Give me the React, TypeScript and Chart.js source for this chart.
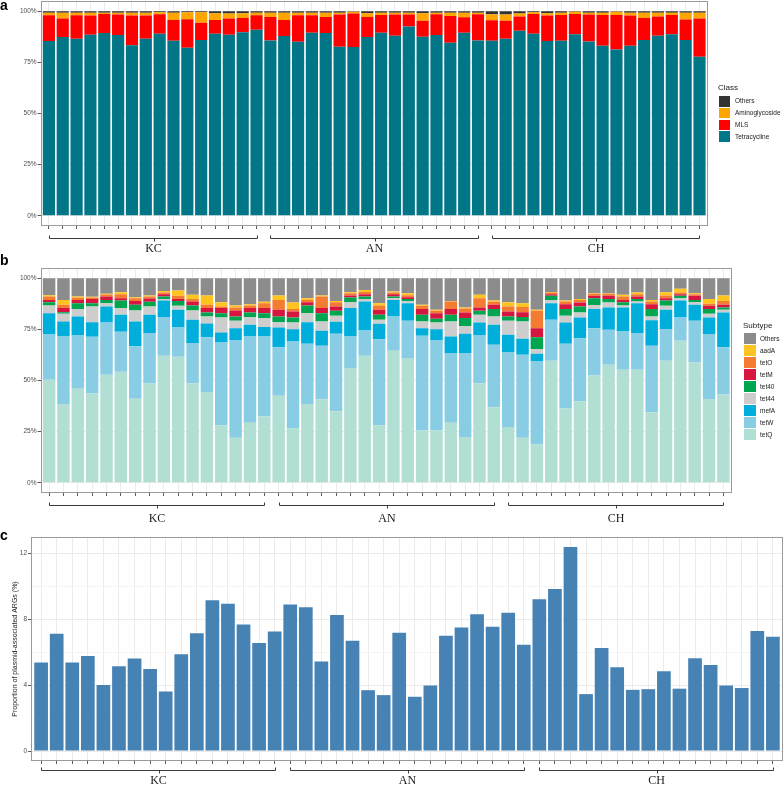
import React, { useEffect, useRef } from 'react';
import { Chart, registerables } from 'chart.js';

Chart.register(...registerables);

const FONT = '"Liberation Sans", Arial, Helvetica, sans-serif';
const SERIF = '"Liberation Serif", "Times New Roman", serif';

// ---------- categories ----------
const groupLabels = ['KC', 'AN', 'CH'];
const groupSize = 16;
const samples = groupLabels.flatMap((g) => Array.from({ length: groupSize }, (_, k) => `${g}${k + 1}`));

// ---------- panel a : ARG class (%) ----------
const classTetracycline = [85.4, 87.4, 86.6, 88.5, 89.3, 88.4, 83.4, 86.6, 89.0, 85.6, 82.1, 85.9, 89.0, 88.5, 89.7, 91.0, 85.7, 87.9, 85.1, 89.5, 89.3, 82.6, 82.5, 87.4, 89.5, 88.0, 92.5, 87.5, 88.4, 84.6, 89.5, 85.7, 85.6, 86.6, 90.5, 89.0, 85.4, 85.6, 88.7, 85.2, 83.1, 81.3, 83.1, 85.9, 88.0, 88.7, 85.9, 77.7];
const classMLS = [12.6, 9.0, 11.4, 9.4, 9.4, 10.0, 14.5, 11.3, 9.5, 10.1, 14.0, 8.5, 6.7, 7.9, 7.0, 7.0, 11.5, 7.8, 12.9, 8.5, 7.9, 15.8, 16.4, 9.8, 8.7, 10.4, 5.9, 7.9, 10.1, 13.1, 7.5, 12.8, 10.0, 8.8, 6.9, 9.7, 12.5, 12.6, 10.0, 13.2, 15.1, 16.9, 14.8, 10.8, 9.4, 9.5, 10.0, 18.7];
const classAminoglycoside = [1.3, 2.9, 1.3, 1.4, 0.6, 0.9, 1.4, 1.3, 1.0, 3.6, 3.4, 5.1, 3.3, 2.5, 2.3, 1.2, 2.0, 3.5, 1.2, 1.3, 2.0, 0.9, 0.9, 1.8, 1.0, 0.9, 0.9, 3.6, 0.8, 1.6, 2.3, 0.8, 2.9, 3.0, 1.5, 0.8, 1.1, 1.0, 1.0, 0.9, 1.1, 1.5, 1.3, 2.5, 1.9, 1.1, 3.4, 2.9];
const classOthers = [0.7, 0.7, 0.7, 0.7, 0.7, 0.7, 0.7, 0.8, 0.5, 0.7, 0.5, 0.5, 1.0, 1.1, 1.0, 0.8, 0.8, 0.8, 0.8, 0.7, 0.8, 0.7, 0.2, 1.0, 0.8, 0.7, 0.7, 1.0, 0.7, 0.7, 0.7, 0.7, 1.5, 1.6, 1.1, 0.5, 1.0, 0.8, 0.3, 0.7, 0.7, 0.3, 0.8, 0.8, 0.7, 0.7, 0.7, 0.7];

// ---------- panel b : ARG subtype (%) ----------
const subTetQ = [50.4, 38.5, 46.0, 43.6, 52.8, 54.3, 41.1, 48.5, 62.1, 61.6, 48.5, 44.4, 28.1, 22.0, 29.3, 32.5, 42.6, 26.5, 38.5, 40.7, 35.0, 56.1, 62.1, 28.1, 64.6, 61.0, 25.5, 25.5, 29.3, 22.4, 48.5, 36.9, 27.3, 22.0, 18.7, 59.7, 36.3, 39.8, 52.4, 57.7, 55.3, 55.3, 34.5, 59.7, 69.4, 58.9, 41.0, 43.1];
const subTetW = [22.1, 33.2, 26.0, 27.8, 25.6, 19.5, 25.6, 24.7, 18.9, 14.3, 19.8, 26.8, 40.5, 47.6, 42.2, 39.0, 23.6, 42.6, 29.5, 26.3, 37.8, 15.4, 12.4, 42.1, 16.7, 18.2, 46.4, 44.1, 34.1, 41.0, 23.5, 30.6, 36.6, 40.6, 40.6, 20.0, 31.7, 30.9, 23.2, 17.1, 18.7, 17.9, 32.5, 15.4, 11.4, 20.3, 31.7, 23.2];
const subMefA = [10.4, 7.2, 9.3, 7.1, 7.8, 8.3, 12.2, 8.9, 8.1, 8.7, 11.4, 6.7, 4.9, 6.0, 5.7, 4.6, 9.7, 6.0, 10.5, 7.3, 5.9, 13.9, 14.1, 7.5, 8.1, 8.6, 3.7, 5.5, 8.1, 9.4, 6.4, 9.7, 8.5, 7.8, 3.8, 8.1, 10.4, 10.1, 9.3, 10.9, 11.7, 14.6, 12.5, 9.5, 8.3, 7.8, 8.1, 17.0];
const subTet44 = [3.8, 3.7, 3.6, 7.7, 1.6, 3.3, 5.3, 4.1, 0.8, 1.9, 4.5, 3.4, 7.3, 3.6, 3.8, 4.4, 2.6, 3.3, 4.4, 4.6, 2.9, 2.9, 1.2, 2.0, 0.8, 1.0, 3.3, 3.3, 7.4, 3.9, 3.7, 4.1, 6.8, 8.5, 2.3, 1.6, 3.2, 2.5, 2.0, 2.4, 1.0, 0.8, 1.8, 1.9, 1.1, 1.3, 1.8, 1.3];
const subTet40 = [1.6, 0.8, 2.9, 1.6, 1.6, 3.7, 2.8, 2.3, 1.2, 2.4, 2.5, 2.0, 2.1, 2.1, 2.3, 2.4, 2.8, 2.4, 3.8, 4.0, 2.5, 2.3, 1.3, 2.4, 0.9, 1.0, 3.2, 1.8, 3.2, 3.8, 2.0, 3.6, 2.1, 2.1, 5.8, 2.0, 3.4, 2.9, 3.3, 1.7, 1.6, 1.3, 3.7, 2.6, 1.2, 1.1, 2.3, 1.1];
const subTetM = [1.1, 2.0, 1.6, 2.1, 1.7, 1.1, 1.9, 1.6, 1.1, 1.0, 1.9, 2.1, 2.5, 2.9, 2.1, 2.5, 3.3, 2.9, 1.6, 2.5, 2.1, 0.9, 1.1, 2.5, 1.1, 0.9, 2.8, 2.7, 2.8, 2.8, 1.6, 2.1, 2.4, 2.4, 4.4, 0.8, 2.3, 1.9, 1.2, 1.6, 1.1, 1.2, 2.3, 1.1, 0.8, 2.0, 1.6, 1.3];
const subTetO = [1.7, 1.6, 1.0, 0.7, 0.9, 2.0, 1.3, 1.0, 0.8, 1.5, 1.2, 1.6, 0.8, 1.5, 1.3, 2.4, 4.8, 1.3, 1.1, 5.7, 2.1, 1.2, 1.1, 2.1, 0.8, 1.0, 1.6, 1.2, 3.7, 1.9, 4.5, 1.5, 2.5, 2.5, 8.5, 0.8, 1.3, 1.3, 1.0, 1.0, 1.7, 1.1, 1.3, 1.3, 0.8, 0.8, 1.0, 1.9];
const subAadA = [0.6, 2.3, 0.7, 0.3, 0.4, 1.0, 0.5, 0.4, 0.8, 2.6, 2.1, 4.5, 2.1, 1.0, 0.6, 0.7, 2.1, 3.1, 0.8, 0.4, 0.6, 0.5, 1.0, 1.1, 0.5, 1.0, 0.5, 0.5, 0.3, 0.5, 1.7, 0.6, 2.1, 1.9, 0.5, 0.3, 0.5, 0.4, 0.3, 0.3, 0.8, 0.8, 0.8, 1.7, 1.8, 0.5, 2.3, 2.6];
const subOthers = [8.3, 10.7, 8.9, 9.1, 7.6, 6.8, 9.3, 8.5, 6.2, 6.0, 8.1, 8.5, 11.7, 13.3, 12.7, 11.5, 8.5, 11.9, 9.8, 8.5, 11.1, 6.8, 5.7, 12.2, 6.5, 7.3, 13.0, 15.4, 11.1, 14.3, 8.1, 10.9, 11.7, 12.2, 15.4, 6.7, 10.9, 10.2, 7.3, 7.3, 8.1, 7.0, 10.6, 6.8, 5.2, 7.3, 10.2, 8.5];

// ---------- panel c : plasmid-associated ARGs (%) ----------
const plasmidProportion = [5.38, 7.13, 5.38, 5.78, 4.01, 5.15, 5.62, 4.99, 3.62, 5.88, 7.15, 9.16, 8.94, 7.69, 6.56, 7.27, 8.90, 8.74, 5.44, 8.27, 6.70, 3.70, 3.40, 7.19, 3.30, 3.99, 7.01, 7.51, 8.31, 7.55, 8.40, 6.46, 9.22, 9.85, 12.40, 3.46, 6.26, 5.09, 3.72, 3.76, 4.85, 3.79, 5.64, 5.23, 3.99, 3.83, 7.29, 6.95];

// ---------- ticks ----------
const percentTicks = [0, 25, 50, 75, 100];
const plasmidMajorTicks = [0, 4, 8, 12];
const plasmidMinorTicks = [2, 6, 10];

// ---------- series definitions (bottom to top) ----------
const classSeries = [
  { name: 'Tetracycline', values: classTetracycline, color: '#007687' },
  { name: 'MLS', values: classMLS, color: '#FF0000' },
  { name: 'Aminoglycoside', values: classAminoglycoside, color: '#FFA500' },
  { name: 'Others', values: classOthers, color: '#333333' },
];
const subtypeSeries = [
  { name: 'tetQ', values: subTetQ, color: '#B2DFD3' },
  { name: 'tetW', values: subTetW, color: '#88CDE3' },
  { name: 'mefA', values: subMefA, color: '#00AEDC' },
  { name: 'tet44', values: subTet44, color: '#CDCDCD' },
  { name: 'tet40', values: subTet40, color: '#00A550' },
  { name: 'tetM', values: subTetM, color: '#D6163F' },
  { name: 'tetO', values: subTetO, color: '#F47B32' },
  { name: 'aadA', values: subAadA, color: '#FFC41F' },
  { name: 'Others', values: subOthers, color: '#8C8C8C' },
];

type Spec = {
  top: number;
  canvasH: number;
  padTop: number;
  xh: number;
  yw: number;
  right: number;
  xMin: number;
  xMax: number;
  yMin: number;
  yMax: number;
  yTicks: number[];
  isMajor: (v: number) => boolean;
  yLabel: (v: number) => string;
  datasets: any[];
  letter: string;
  letterY: number;
  bracketY: number;
  labelY: number;
  yTitle?: { text: string; x: number };
};

function toDatasets(series: { name: string; values: number[]; color: string }[], barPct: number) {
  return series.map((s) => ({
    label: s.name,
    data: s.values.map((v, i) => ({ x: i, y: v })),
    backgroundColor: s.color,
    borderWidth: 0,
    barPercentage: barPct,
    categoryPercentage: 1,
  }));
}

function decor(s: Spec) {
  return {
    id: 'decor',
    afterDatasetsDraw(chart: any) {
      const { ctx, chartArea: a } = chart;
      ctx.save();
      ctx.strokeStyle = '#9A9A9A';
      ctx.lineWidth = 1;
      const l = Math.round(a.left) + 0.5;
      const t = Math.round(a.top) + 0.5;
      const r = Math.round(a.right) - 0.5;
      const b = Math.round(a.bottom) - 0.5;
      ctx.strokeRect(l, t, r - l, b - t);
      ctx.restore();
    },
    afterDraw(chart: any) {
      const { ctx, chartArea: a } = chart;
      const xs = chart.scales.x;
      ctx.save();
      // panel letter
      ctx.fillStyle = '#000';
      ctx.font = `bold 14px ${FONT}`;
      ctx.textAlign = 'left';
      ctx.textBaseline = 'alphabetic';
      ctx.fillText(s.letter, 0, s.letterY);
      // group brackets
      ctx.strokeStyle = '#3A3A3A';
      ctx.lineWidth = 1;
      const y = Math.round(s.bracketY) + 0.5;
      groupLabels.forEach((g, gi) => {
        const first = gi * groupSize;
        const last = first + groupSize - 1;
        const x0 = Math.round(xs.getPixelForValue(first)) + 0.5;
        const x1 = Math.round(xs.getPixelForValue(last)) + 0.5;
        const mid = Math.round((x0 + x1) / 2) + 0.5;
        ctx.beginPath();
        ctx.moveTo(x0, y - 3);
        ctx.lineTo(x0, y);
        ctx.lineTo(x1, y);
        ctx.lineTo(x1, y - 3);
        ctx.moveTo(mid, y);
        ctx.lineTo(mid, y + 3);
        ctx.stroke();
        ctx.fillStyle = '#1A1A1A';
        ctx.font = `12px ${SERIF}`;
        ctx.textAlign = 'center';
        ctx.textBaseline = 'middle';
        ctx.fillText(g, (x0 + x1) / 2, s.labelY);
      });
      // y title
      if (s.yTitle) {
        ctx.save();
        ctx.translate(s.yTitle.x, (a.top + a.bottom) / 2);
        ctx.rotate(-Math.PI / 2);
        ctx.fillStyle = '#222';
        ctx.font = `7px ${FONT}`;
        ctx.textAlign = 'center';
        ctx.textBaseline = 'middle';
        ctx.fillText(s.yTitle.text, 0, 0);
        ctx.restore();
      }
      ctx.restore();
    },
  };
}

function buildConfig(s: Spec): any {
  return {
    type: 'bar',
    data: { labels: samples, datasets: s.datasets },
    options: {
      animation: false,
      responsive: false,
      maintainAspectRatio: false,
      events: [],
      layout: { padding: { left: 0, right: s.right, top: s.padTop, bottom: 0 } },
      plugins: { legend: { display: false }, tooltip: { enabled: false }, title: { display: false } },
      scales: {
        x: {
          type: 'linear',
          min: s.xMin,
          max: s.xMax,
          offset: false,
          stacked: true,
          grid: {
            offset: false,
            color: '#EBEBEB',
            lineWidth: 1,
            tickColor: '#5A5A5A',
            tickLength: 3,
            drawTicks: true,
            drawOnChartArea: true,
          },
          border: { display: false },
          ticks: { display: false },
          afterBuildTicks: (sc: any) => {
            sc.ticks = samples.map((_, i) => ({ value: i }));
          },
          afterFit: (sc: any) => {
            sc.height = s.xh;
            sc.paddingLeft = 0;
            sc.paddingRight = 0;
          },
        },
        y: {
          type: 'linear',
          min: s.yMin,
          max: s.yMax,
          stacked: true,
          grid: {
            color: (c: any) => (c.tick && s.isMajor(c.tick.value) ? '#EBEBEB' : '#F5F5F5'),
            tickColor: (c: any) => (c.tick && s.isMajor(c.tick.value) ? '#5A5A5A' : 'rgba(0,0,0,0)'),
            tickLength: 3,
            lineWidth: 1,
          },
          border: { display: false },
          ticks: {
            font: { size: 6.5, family: FONT },
            color: '#4D4D4D',
            padding: 1,
            autoSkip: false,
            callback: (v: any) => s.yLabel(Number(v)),
          },
          afterBuildTicks: (sc: any) => {
            sc.ticks = s.yTicks.map((v) => ({ value: v }));
          },
          afterFit: (sc: any) => {
            sc.width = s.yw;
            sc.paddingTop = 0;
            sc.paddingBottom = 0;
          },
        },
      },
    },
    plugins: [decor(s)],
  };
}

const specA: Spec = {
  top: 0,
  canvasH: 256,
  padTop: 1,
  xh: 30,
  yw: 40.6,
  right: 75.2,
  xMin: -0.6,
  xMax: 47.6,
  yMin: -5,
  yMax: 105,
  yTicks: percentTicks,
  isMajor: () => true,
  yLabel: (v) => `${v}%`,
  datasets: toDatasets(classSeries, 0.88),
  letter: 'a',
  letterY: 10,
  bracketY: 238,
  labelY: 248.5,
};

const specB: Spec = {
  top: 250,
  canvasH: 280,
  padTop: 18,
  xh: 37,
  yw: 40.5,
  right: 51,
  xMin: -0.6,
  xMax: 47.6,
  yMin: -5,
  yMax: 105,
  yTicks: percentTicks,
  isMajor: () => true,
  yLabel: (v) => `${v}%`,
  datasets: toDatasets(subtypeSeries, 0.87),
  letter: 'b',
  letterY: 15,
  bracketY: 255,
  labelY: 269,
};

const specC: Spec = {
  top: 526,
  canvasH: 262,
  padTop: 11,
  xh: 27,
  yw: 31,
  right: 0,
  xMin: -0.65,
  xMax: 47.65,
  yMin: -0.6,
  yMax: 13.0,
  yTicks: [...plasmidMajorTicks, ...plasmidMinorTicks],
  isMajor: (v) => plasmidMajorTicks.includes(v),
  yLabel: (v) => (plasmidMajorTicks.includes(v) ? String(v) : ''),
  datasets: [
    {
      label: 'Proportion of plasmid-associated ARGs (%)',
      data: plasmidProportion.map((v, i) => ({ x: i, y: v })),
      backgroundColor: '#4682B4',
      borderWidth: 0,
      barPercentage: 0.88,
      categoryPercentage: 1,
    },
  ],
  letter: 'c',
  letterY: 14,
  bracketY: 244,
  labelY: 255,
  yTitle: { text: 'Proportion of plasmid-associated ARGs (%)', x: 15 },
};

function ChartCanvas({ spec }: { spec: Spec }) {
  const ref = useRef<HTMLCanvasElement | null>(null);
  useEffect(() => {
    if (!ref.current) return;
    const chart = new Chart(ref.current, buildConfig(spec));
    return () => chart.destroy();
  }, [spec]);
  return (
    <canvas
      ref={ref}
      width={783}
      height={spec.canvasH}
      style={{ position: 'absolute', left: 0, top: spec.top, width: 783, height: spec.canvasH }}
    />
  );
}

type LegendProps = {
  title: string;
  items: { name: string; color: string }[];
  left: number;
  titleY: number;
  firstTop: number;
  pitch: number;
  keyW: number;
  keyH: number;
  textLeft: number;
};

function Legend(p: LegendProps) {
  return (
    <>
      <div
        style={{
          position: 'absolute',
          left: p.left,
          top: p.titleY - 5,
          height: 10,
          lineHeight: '10px',
          fontSize: 8,
          color: '#1A1A1A',
          fontFamily: FONT,
          whiteSpace: 'nowrap',
        }}
      >
        {p.title}
      </div>
      {p.items.map((it, i) => (
        <React.Fragment key={it.name + i}>
          <div
            style={{
              position: 'absolute',
              left: p.left + 1,
              top: p.firstTop + i * p.pitch,
              width: p.keyW,
              height: p.keyH,
              background: it.color,
            }}
          />
          <div
            style={{
              position: 'absolute',
              left: p.textLeft,
              top: p.firstTop + i * p.pitch + p.keyH / 2 - 5,
              height: 10,
              lineHeight: '10px',
              fontSize: 6.5,
              color: '#1A1A1A',
              fontFamily: FONT,
              whiteSpace: 'nowrap',
            }}
          >
            {it.name}
          </div>
        </React.Fragment>
      ))}
    </>
  );
}

export default function App() {
  const classLegend = [...classSeries].reverse().map((s) => ({ name: s.name, color: s.color }));
  const subtypeLegend = [...subtypeSeries].reverse().map((s) => ({ name: s.name, color: s.color }));
  return (
    <div
      style={{
        position: 'absolute',
        left: 0,
        top: 0,
        width: 783,
        height: 788,
        overflow: 'hidden',
        background: '#FFFFFF',
        fontFamily: FONT,
      }}
    >
      <ChartCanvas spec={specA} />
      <ChartCanvas spec={specB} />
      <ChartCanvas spec={specC} />
      <Legend
        title="Class"
        items={classLegend}
        left={718}
        titleY={88}
        firstTop={96}
        pitch={11.8}
        keyW={11}
        keyH={10.5}
        textLeft={735}
      />
      <Legend
        title="Subtype"
        items={subtypeLegend}
        left={743}
        titleY={326}
        firstTop={333}
        pitch={12}
        keyW={12}
        keyH={11}
        textLeft={760}
      />
    </div>
  );
}
